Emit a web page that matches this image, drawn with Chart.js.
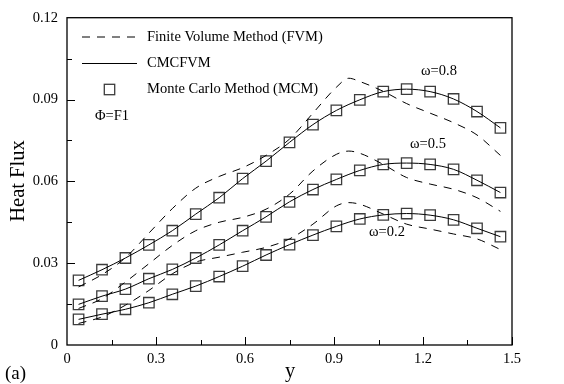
<!DOCTYPE html>
<html>
<head>
<meta charset="utf-8">
<script src="https://cdn.jsdelivr.net/npm/chart.js@4.4.1/dist/chart.umd.min.js"></script>
<style>
  html, body { margin: 0; padding: 0; background: #ffffff; }
  #wrap { width: 564px; height: 384px; }
</style>
</head>
<body>
<div id="wrap"><canvas id="c" width="564" height="384"></canvas></div>
<script>
// ---------- data ----------
const yPos = [0.039, 0.118, 0.197, 0.276, 0.355, 0.434, 0.513, 0.592, 0.671, 0.750,
              0.829, 0.908, 0.987, 1.066, 1.145, 1.224, 1.303, 1.382, 1.461];

// Monte Carlo Method (squares)
const mcm08 = [0.0237, 0.0276, 0.0319, 0.0367, 0.0419, 0.0480, 0.0540, 0.0610, 0.0674, 0.0743,
               0.0808, 0.0860, 0.0899, 0.0929, 0.0938, 0.0929, 0.0902, 0.0856, 0.0796];
const mcm05 = [0.0149, 0.0179, 0.0205, 0.0243, 0.0277, 0.0319, 0.0367, 0.0419, 0.0470, 0.0525,
               0.0570, 0.0607, 0.0640, 0.0662, 0.0667, 0.0662, 0.0644, 0.0604, 0.0559];
const mcm02 = [0.0094, 0.0113, 0.0131, 0.0155, 0.0186, 0.0216, 0.0251, 0.0289, 0.0330, 0.0368,
               0.0403, 0.0435, 0.0462, 0.0477, 0.0482, 0.0476, 0.0459, 0.0428, 0.0397];

// CMCFVM (solid lines)
const cmc08 = [0.0237, 0.0276, 0.0319, 0.0367, 0.0419, 0.0480, 0.0540, 0.0610, 0.0674, 0.0743,
               0.0808, 0.0860, 0.0899, 0.0929, 0.0938, 0.0929, 0.0902, 0.0856, 0.0796];
const cmc05 = [0.0149, 0.0179, 0.0205, 0.0243, 0.0277, 0.0319, 0.0367, 0.0419, 0.0470, 0.0525,
               0.0570, 0.0607, 0.0640, 0.0662, 0.0667, 0.0662, 0.0644, 0.0604, 0.0559];
const cmc02 = [0.0094, 0.0113, 0.0131, 0.0155, 0.0186, 0.0216, 0.0251, 0.0289, 0.0330, 0.0368,
               0.0403, 0.0435, 0.0462, 0.0477, 0.0482, 0.0476, 0.0459, 0.0428, 0.0397];

// Finite Volume Method (dashed lines)
const fvmPos = [0.039, 0.118, 0.197, 0.276, 0.355, 0.434, 0.513, 0.592, 0.671, 0.750,
                0.829, 0.908, 0.950, 0.987, 1.066, 1.145, 1.224, 1.303, 1.382, 1.461];
const fvm08 = [0.0213, 0.0258, 0.0320, 0.0410, 0.0500, 0.0575, 0.0618, 0.0650, 0.0695, 0.0755,
               0.0850, 0.0945, 0.0978, 0.0966, 0.0930, 0.0885, 0.0850, 0.0815, 0.0770, 0.0695];
const fvm05 = [0.0134, 0.0170, 0.0231, 0.0298, 0.0365, 0.0419, 0.0450, 0.0468, 0.0498, 0.0553,
               0.0638, 0.0699, 0.0711, 0.0703, 0.0662, 0.0614, 0.0590, 0.0571, 0.0540, 0.0490];
const fvm02 = [0.0079, 0.0103, 0.0146, 0.0200, 0.0261, 0.0304, 0.0322, 0.0340, 0.0358, 0.0389,
               0.0443, 0.0510, 0.0522, 0.0516, 0.0480, 0.0443, 0.0425, 0.0407, 0.0389, 0.0350];

const xTickLabels = ['0', '0.3', '0.6', '0.9', '1.2', '1.5'];
const yTickLabels = ['0', '0.03', '0.06', '0.09', '0.12'];
const legendLabels = ['Finite Volume Method (FVM)', 'CMCFVM', 'Monte Carlo Method (MCM)'];
const curveLabels = ['\u03C9=0.8', '\u03C9=0.5', '\u03C9=0.2'];
const caseLabel = '\u03A6=F1';
const xTitle = 'y';
const yTitle = 'Heat Flux';
const panelLabel = '(a)';

// ---------- build datasets ----------
const pts = (xs, ys) => xs.map((x, i) => ({ x: x, y: ys[i] }));
const SERIF = '"Liberation Serif", "Times New Roman", serif';

function lineSet(xs, ys, dashed) {
  return {
    data: pts(xs, ys),
    borderColor: '#000',
    borderWidth: 1,
    borderDash: dashed ? [8, 7] : [],
    pointRadius: 0,
    fill: false,
    cubicInterpolationMode: 'monotone'
  };
}
function markSet(xs, ys) {
  return {
    data: pts(xs, ys),
    showLine: false,
    pointStyle: 'rect',
    pointRadius: 7.4,
    pointBorderWidth: 1.3,
    pointBorderColor: '#3c3c3c',
    pointBackgroundColor: 'rgba(0,0,0,0)'
  };
}

const datasets = [
  lineSet(fvmPos, fvm08, true), lineSet(fvmPos, fvm05, true), lineSet(fvmPos, fvm02, true),
  lineSet(yPos, cmc08, false), lineSet(yPos, cmc05, false), lineSet(yPos, cmc02, false),
  markSet(yPos, mcm08), markSet(yPos, mcm05), markSet(yPos, mcm02)
];

// ---------- decorations: frame, inner ticks, legend, labels ----------
const deco = {
  id: 'deco',
  afterDraw(chart) {
    const { ctx, chartArea: a, scales: { x, y } } = chart;
    ctx.save();
    ctx.strokeStyle = '#000';
    ctx.lineWidth = 1.3;
    ctx.strokeRect(a.left, a.top, a.right - a.left, a.bottom - a.top);

    // inner ticks
    ctx.lineWidth = 1;
    ctx.beginPath();
    for (let v = 0.15; v < 1.5; v += 0.15) {
      const px = Math.round(x.getPixelForValue(v)) + 0.5;
      const major = Math.abs(v / 0.3 - Math.round(v / 0.3)) < 1e-6;
      ctx.moveTo(px, a.bottom);
      ctx.lineTo(px, a.bottom - (major ? 8 : 5));
    }
    for (let v = 0.015; v < 0.12; v += 0.015) {
      const py = Math.round(y.getPixelForValue(v)) + 0.5;
      const major = Math.abs(v / 0.03 - Math.round(v / 0.03)) < 1e-6;
      ctx.moveTo(a.left, py);
      ctx.lineTo(a.left + (major ? 8 : 5), py);
    }
    ctx.stroke();

    // legend
    const lx0 = 82, lx1 = 137, tx = 147;
    const rows = [37, 63.5, 89.5];
    ctx.lineWidth = 1;
    ctx.setLineDash([8, 7]);
    ctx.beginPath(); ctx.moveTo(lx0, rows[0]); ctx.lineTo(lx1, rows[0]); ctx.stroke();
    ctx.setLineDash([]);
    ctx.beginPath(); ctx.moveTo(lx0, rows[1]); ctx.lineTo(lx1, rows[1]); ctx.stroke();
    ctx.strokeStyle = '#3c3c3c';
    ctx.lineWidth = 1.3;
    ctx.strokeRect(109.5 - 5.2, rows[2] - 5.2, 10.4, 10.4);

    ctx.fillStyle = '#000';
    ctx.font = '14.5px ' + SERIF;
    ctx.textBaseline = 'middle';
    ctx.textAlign = 'left';
    legendLabels.forEach((t, i) => ctx.fillText(t, tx, rows[i]));
    ctx.fillText(caseLabel, 95, 116);

    // curve labels
    ctx.textAlign = 'center';
    ctx.fillText(curveLabels[0], 439, 71);
    ctx.fillText(curveLabels[1], 428, 144.5);
    ctx.fillText(curveLabels[2], 387, 232.5);

    // axis titles
    ctx.font = '20.5px ' + SERIF;
    ctx.textBaseline = 'alphabetic';
    ctx.fillText(xTitle, 290, 377);
    ctx.save();
    ctx.translate(24, 181);
    ctx.rotate(-Math.PI / 2);
    ctx.fillText(yTitle, 0, 0);
    ctx.restore();
    ctx.font = '19px ' + SERIF;
    ctx.textAlign = 'left';
    ctx.fillText(panelLabel, 5, 379);
    ctx.restore();
  }
};

new Chart(document.getElementById('c'), {
  type: 'line',
  data: { datasets: datasets },
  options: {
    responsive: false,
    animation: false,
    events: [],
    layout: { padding: { left: 0, right: 52, top: 16, bottom: 0 } },
    plugins: { legend: { display: false }, tooltip: { enabled: false } },
    scales: {
      x: {
        type: 'linear', min: 0, max: 1.5,
        grid: { display: false, drawTicks: false },
        border: { display: false },
        ticks: {
          stepSize: 0.3, padding: 5, color: '#000', maxRotation: 0,
          font: { family: SERIF, size: 14.5 },
          callback: (v, i) => xTickLabels[i]
        },
        afterFit(s) { s.height = 39; }
      },
      y: {
        type: 'linear', min: 0, max: 0.12,
        grid: { display: false, drawTicks: false },
        border: { display: false },
        ticks: {
          stepSize: 0.03, padding: 9, color: '#000',
          font: { family: SERIF, size: 14.5 },
          callback: (v, i) => yTickLabels[i]
        },
        afterFit(s) { s.width = 67; }
      }
    }
  },
  plugins: [deco]
});
</script>
</body>
</html>
